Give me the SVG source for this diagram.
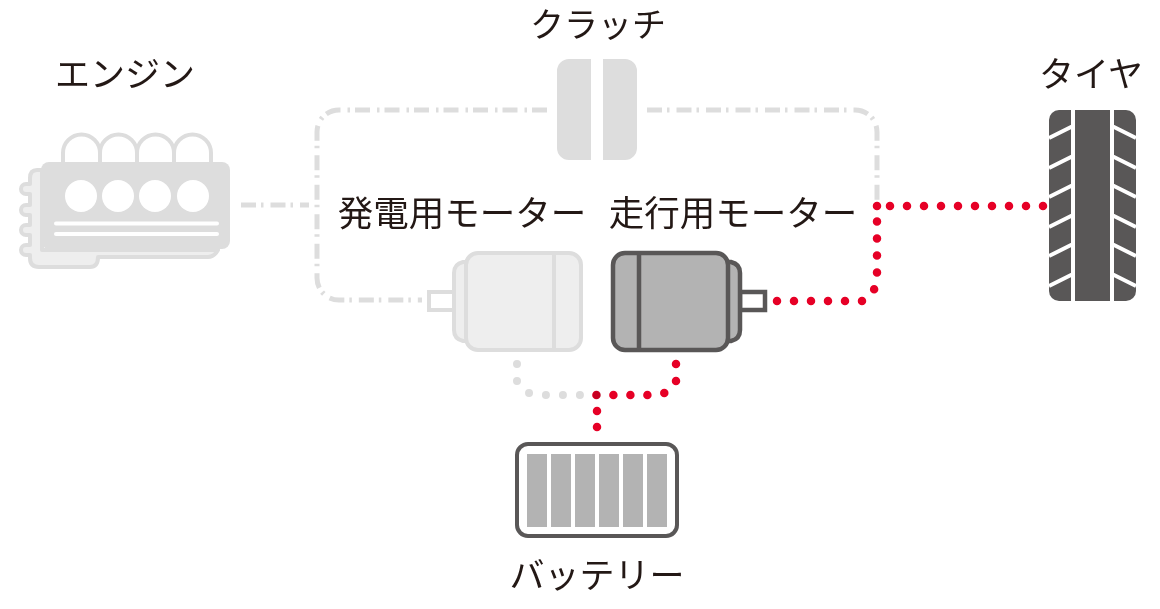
<svg xmlns="http://www.w3.org/2000/svg" width="1160" height="609" viewBox="0 0 1160 609">
<style>
text{font-family:"Noto Sans CJK JP","Noto Sans",sans-serif;font-size:35px;fill:#231815;text-anchor:middle}
.dd{fill:none;stroke:#ddd;stroke-width:5;stroke-dasharray:15 5 2.5 7}
.gd{fill:none;stroke:#ddd;stroke-width:8;stroke-linecap:round;stroke-dasharray:0 17}
.rd{fill:none;stroke:#e60026;stroke-width:8.5;stroke-linecap:round;stroke-dasharray:0 17;mix-blend-mode:multiply}
.lt{fill:#eee;stroke:#ddd;stroke-width:4}
.dk{fill:#b3b3b3;stroke:#595757;stroke-width:4.500}
.wl{fill:none;stroke:#fff;stroke-width:4}
</style>
<g id="connectors">
<path class="dd" d="M241 205H309"/>
<path class="dd" d="M547 110H339A22 22 0 0 0 317 132V278A22 22 0 0 0 339 300H422"/>
<path class="dd" d="M647 110H855A22 22 0 0 1 877 132V204"/>
<path class="gd" d="M517 364V381L529 393L546 395H598"/>
<path class="rd" d="M777 301H862L874 290L877 273V221"/>
<path class="rd" d="M877 206h.01M890 206H1045"/>
<path class="rd" d="M676 364V381L665 393L648 395H596"/>
<path class="rd" style="stroke-dasharray:0 16" d="M597 411V429"/>
</g>
<g id="engine">
<path class="lt" style="fill:#fff" d="M63 164V153A18.500 18.500 0 0 1 100 153V164M100 164V153A18.500 18.500 0 0 1 137 153V164M137 164V153A18.500 18.500 0 0 1 174 153V164M174 164V153A18.500 18.500 0 0 1 211 153V164"/>
<path class="lt" stroke-linejoin="round" d="M42 170H37Q30 170 30 178V184H26A5 5 0 0 0 26 194H30V205H26A5 5 0 0 0 26 215H30V225H26A5 5 0 0 0 26 235H30V245H26A5 5 0 0 0 26 255H30V258Q30 267 39 267H90Q98 267 98 257H208Q214 257 218 250H42Z"/>
<rect x="41" y="162" width="189" height="87" rx="8" fill="#ddd"/>
<g fill="#fff"><circle cx="81" cy="196" r="16"/><circle cx="118" cy="196" r="16"/><circle cx="155" cy="196" r="16"/><circle cx="193" cy="196" r="16"/></g>
<path class="wl" stroke-linecap="round" d="M56 223.500H217M56 234H217"/>
<text x="125" y="87">エンジン</text>
</g>
<g id="clutch">
<path fill="#ddd" d="M591 59V160H569A12 12 0 0 1 557 148V71A12 12 0 0 1 569 59ZM603 59H625A12 12 0 0 1 637 71V148A12 12 0 0 1 625 160H603Z"/>
<text x="598" y="37" style="font-size:34px">クラッチ</text>
</g>
<g id="generator-motor">
<rect class="lt" style="fill:#fff" x="429" y="292" width="28" height="18"/>
<path class="lt" d="M468 262H463Q454 264 454 273V330Q454 339 463 341H468Z"/>
<rect class="lt" x="466" y="253" width="115" height="97" rx="12"/>
<path class="lt" d="M554 253V350"/>
<text x="462" y="226" style="font-size:35.500px">発電用モーター</text>
</g>
<g id="drive-motor">
<rect class="dk" style="fill:#fff" x="740" y="292" width="25" height="18"/>
<path class="dk" d="M727 262H731Q740 264 740 273V330Q740 339 731 341H727Z"/>
<rect class="dk" x="613" y="253" width="115" height="97" rx="12"/>
<path class="dk" d="M639 253V350"/>
<text x="733" y="226" style="font-size:35.500px">走行用モーター</text>
</g>
<g id="battery">
<rect x="517" y="444" width="160" height="92" rx="11" fill="#fff" stroke="#595757" stroke-width="4"/>
<g fill="#b3b3b3"><rect x="527" y="454" width="20" height="73"/><rect x="551" y="454" width="20" height="73"/><rect x="575" y="454" width="20" height="73"/><rect x="599" y="454" width="20" height="73"/><rect x="623" y="454" width="20" height="73"/><rect x="647" y="454" width="20" height="73"/></g>
<text x="597" y="588">バッテリー</text>
</g>
<g id="tire">
<rect x="1049" y="110" width="87" height="191" rx="10" fill="#595757"/>
<path class="wl" d="M1073 110V301M1112 110V301M1049 138L1073 126M1049 168L1073 156M1049 197L1073 185M1049 227L1073 215M1049 256L1073 244M1049 286L1073 274M1136 138L1112 126M1136 168L1112 156M1136 197L1112 185M1136 227L1112 215M1136 256L1112 244M1136 286L1112 274"/>
<text x="1091" y="87">タイヤ</text>
</g>
</svg>
